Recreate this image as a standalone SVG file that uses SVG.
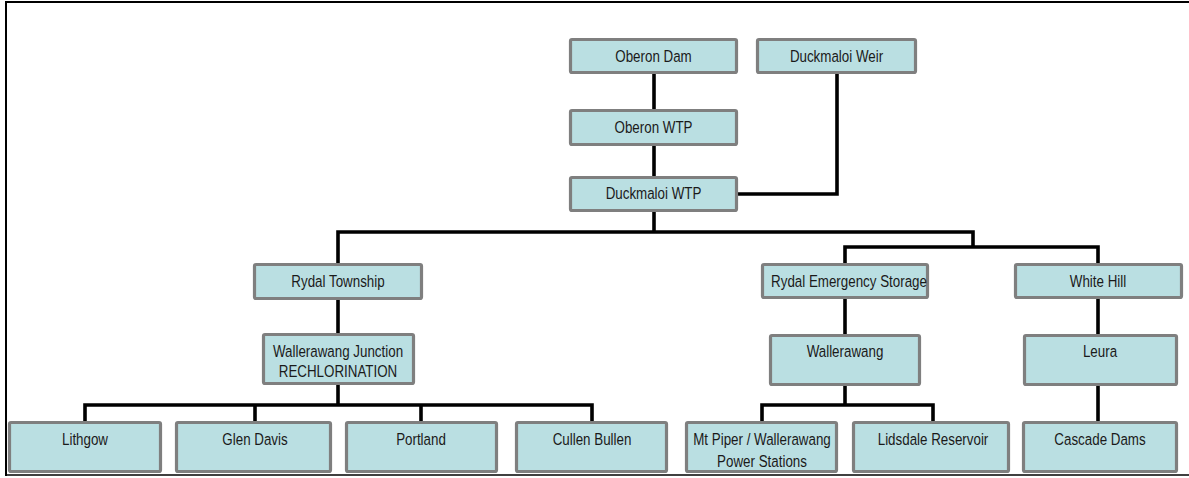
<svg xmlns="http://www.w3.org/2000/svg" width="1189" height="478" viewBox="0 0 1189 478">
<style>
.box{fill:#BADFE2;stroke:#7F7F7F;stroke-width:3.2}
.t{font-family:"Liberation Sans",Arial,sans-serif;font-size:16.5px;fill:#1a1a1a;text-anchor:middle}
.c{fill:none;stroke:#000;stroke-width:3.6;stroke-linejoin:miter}
</style>
<rect width="1189" height="478" fill="#fff"/>
<g id="frame" fill="none" stroke="#000">
<path d="M6 476 V2 H1189" stroke-width="2"/>
<path d="M6 475 H1189" stroke-width="1.5"/>
</g>
<g id="connectors" class="c">
<path class="c" d="M654 74 V109"/>
<path class="c" d="M654 146 V176"/>
<path class="c" d="M837 74 V194 H738"/>
<path class="c" d="M654 212 V232"/>
<path class="c" d="M338 263 V232 H973 V247"/>
<path class="c" d="M845 263 V247 H1098 V263"/>
<path class="c" d="M338 300 V333"/>
<path class="c" d="M338 385 V405"/>
<path class="c" d="M85 421 V405 H592 V421"/>
<path class="c" d="M255 405 V421"/>
<path class="c" d="M421 405 V421"/>
<path class="c" d="M845 299 V334"/>
<path class="c" d="M845 386 V405"/>
<path class="c" d="M762 421 V405 H933 V421"/>
<path class="c" d="M1098 299 V334"/>
<path class="c" d="M1098 386 V421"/>
</g>
<g id="oberon-dam"><rect class="box" x="570.5" y="39.5" width="166" height="33" rx="1.5"/><text class="t" transform="translate(653.5,62) scale(0.81,1)">Oberon Dam</text></g>
<g id="duckmaloi-weir"><rect class="box" x="757.5" y="39.5" width="158" height="33" rx="1.5"/><text class="t" transform="translate(836.5,62) scale(0.81,1)">Duckmaloi Weir</text></g>
<g id="oberon-wtp"><rect class="box" x="570.5" y="110.5" width="166" height="34" rx="1.5"/><text class="t" transform="translate(653.5,133) scale(0.81,1)">Oberon WTP</text></g>
<g id="duckmaloi-wtp"><rect class="box" x="570.5" y="177.5" width="166" height="33" rx="1.5"/><text class="t" transform="translate(653.5,198.5) scale(0.81,1)">Duckmaloi WTP</text></g>
<g id="rydal-township"><rect class="box" x="254.5" y="264.5" width="167" height="34" rx="1.5"/><text class="t" transform="translate(338,287) scale(0.81,1)">Rydal Township</text></g>
<g id="wallerawang-junction"><rect class="box" x="263.5" y="334.5" width="150" height="49" rx="1.5"/><text class="t" transform="translate(338,357) scale(0.81,1)">Wallerawang Junction</text><text class="t" transform="translate(338,377) scale(0.81,1)">RECHLORINATION</text></g>
<g id="rydal-emergency-storage"><rect class="box" x="762.5" y="264.5" width="165" height="33" rx="1.5"/><text class="t" transform="translate(849,287) scale(0.81,1)">Rydal Emergency Storage</text></g>
<g id="white-hill"><rect class="box" x="1015.5" y="264.5" width="166" height="33" rx="1.5"/><text class="t" transform="translate(1098,287) scale(0.81,1)">White Hill</text></g>
<g id="wallerawang"><rect class="box" x="770.5" y="335.5" width="149" height="49" rx="1.5"/><text class="t" transform="translate(845,357) scale(0.81,1)">Wallerawang</text></g>
<g id="leura"><rect class="box" x="1024.5" y="335.5" width="152" height="49" rx="1.5"/><text class="t" transform="translate(1100,357) scale(0.81,1)">Leura</text></g>
<g id="lithgow"><rect class="box" x="9.5" y="422.5" width="151" height="49" rx="1.5"/><text class="t" transform="translate(85,444.5) scale(0.81,1)">Lithgow</text></g>
<g id="glen-davis"><rect class="box" x="176.5" y="422.5" width="154" height="49" rx="1.5"/><text class="t" transform="translate(255,444.5) scale(0.81,1)">Glen Davis</text></g>
<g id="portland"><rect class="box" x="346.5" y="422.5" width="150" height="49" rx="1.5"/><text class="t" transform="translate(421,444.5) scale(0.81,1)">Portland</text></g>
<g id="cullen-bullen"><rect class="box" x="516.5" y="422.5" width="150" height="49" rx="1.5"/><text class="t" transform="translate(592,444.5) scale(0.81,1)">Cullen Bullen</text></g>
<g id="mt-piper"><rect class="box" x="686.5" y="422.5" width="150" height="49" rx="1.5"/><text class="t" transform="translate(762,444.5) scale(0.81,1)">Mt Piper / Wallerawang</text><text class="t" transform="translate(762,466.5) scale(0.81,1)">Power Stations</text></g>
<g id="lidsdale-reservoir"><rect class="box" x="853.5" y="422.5" width="155" height="49" rx="1.5"/><text class="t" transform="translate(933,444.5) scale(0.81,1)">Lidsdale Reservoir</text></g>
<g id="cascade-dams"><rect class="box" x="1023.5" y="422.5" width="153" height="49" rx="1.5"/><text class="t" transform="translate(1100,444.5) scale(0.81,1)">Cascade Dams</text></g>
</svg>
